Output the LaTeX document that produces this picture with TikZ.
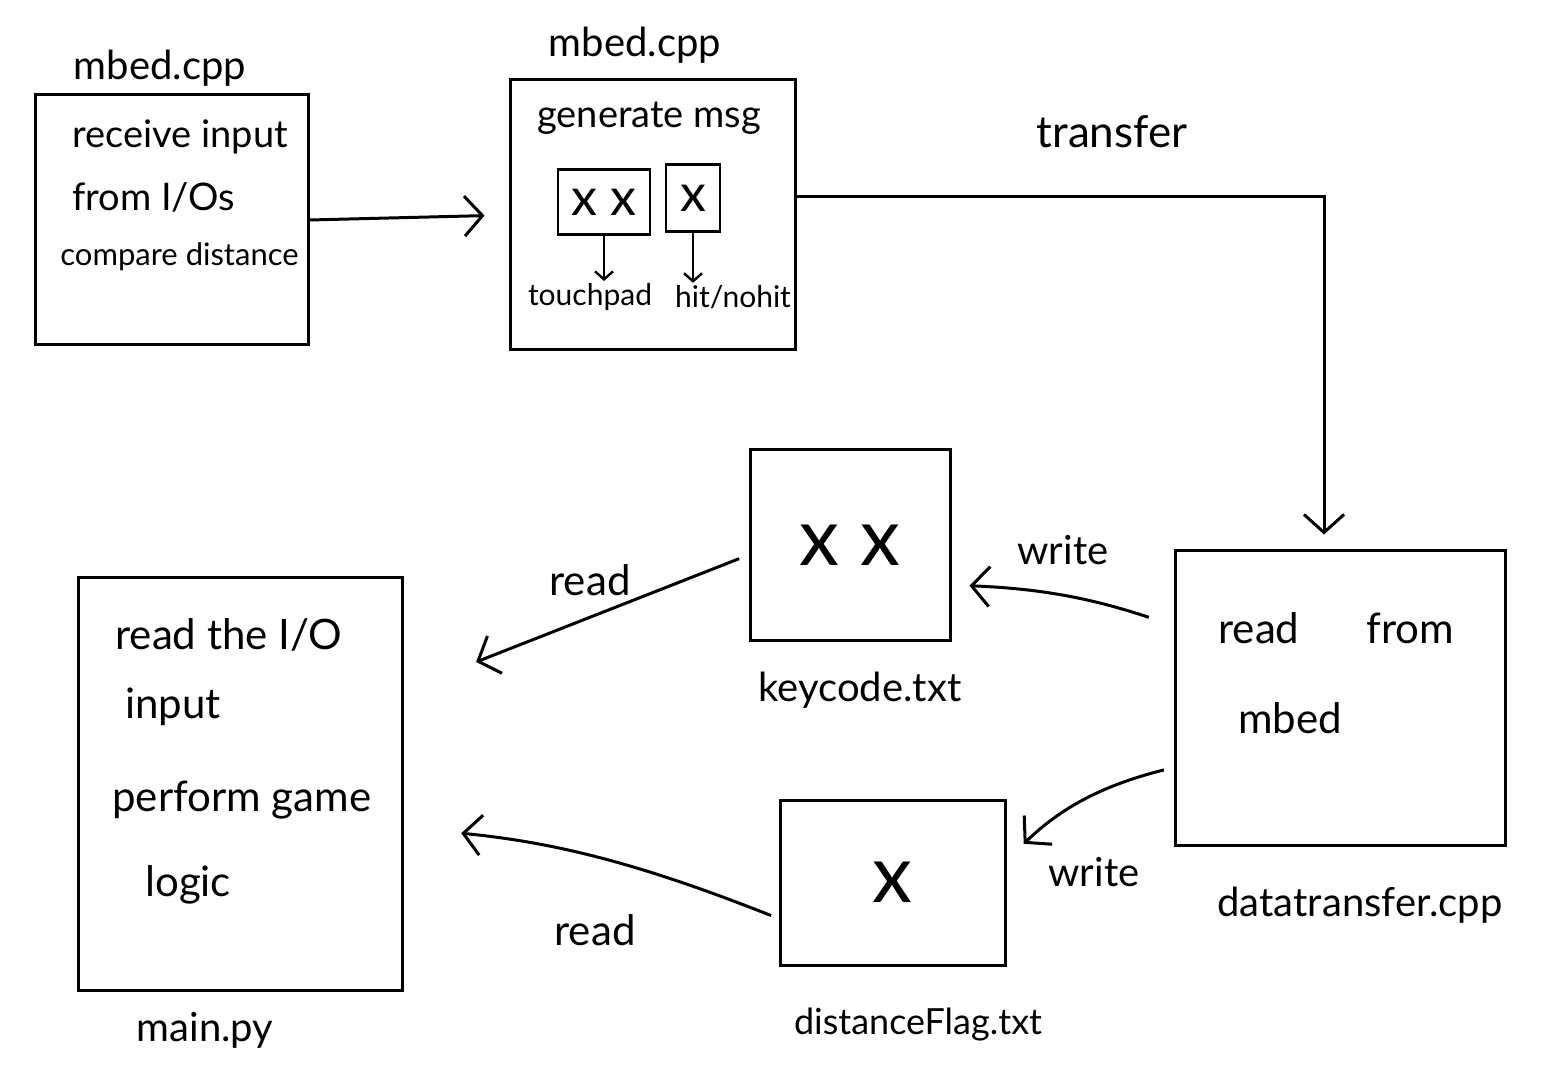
\documentclass[tikz,border=0pt]{standalone}
\usepackage{fontspec}
\setmainfont{Lato}
\usetikzlibrary{arrows.meta}
\begin{document}
\begin{tikzpicture}[x=0.5pt,y=-0.5pt,
  box/.style={draw, line width=1.5pt, inner sep=0pt},
  conn/.style={line width=1.5pt, -{Straight Barb[length=9pt,width=20pt,line width=1.5pt]}},
  smallconn/.style={line width=1.2pt, -{Straight Barb[length=4pt,width=9pt,line width=1.2pt]}},
  lab/.style={font=\fontsize{20}{24}\selectfont, inner sep=1pt},
  txt/.style={font=\fontsize{19}{23}\selectfont, inner sep=1pt, anchor=west},
  bigtxt/.style={font=\fontsize{21}{25}\selectfont, inner sep=1pt, anchor=west},
  smalltxt/.style={font=\fontsize{15}{18}\selectfont, inner sep=1pt},
  crossmark/.style={font=\fontsize{40}{40}\selectfont},
  smallcross/.style={font=\fontsize{26}{26}\selectfont}
]
\useasboundingbox (0,0) rectangle (1558,1080);

% Box A: mbed.cpp (first)
\node[box, minimum width=136.5pt, minimum height=125pt] (A) at (171.5,220) {};
\node[lab] (Alab) at (160,68) {mbed.cpp};
\node[txt] (A1) at (70,137) {receive input};
\node[txt] (A2) at (70,197) {from I/Os};
\node[txt, font=\fontsize{15.5}{18}\selectfont] (A3) at (58,257) {compare distance};

% Box B: mbed.cpp (second)
\node[box, minimum width=142.5pt, minimum height=135pt] (B) at (652.5,215) {};
\node[lab] (Blab) at (635,45) {mbed.cpp};
\node[txt] (B1) at (535,118) {generate msg};
\node[box, line width=1.2pt, minimum width=46pt, minimum height=32.5pt, smallcross] (Bx1) at (604,202) {x x};
\node[box, line width=1.2pt, minimum width=27pt, minimum height=33.5pt, smallcross] (Bx2) at (693,198) {x};
\node[smalltxt] (touch) at (590,297) {touchpad};
\node[smalltxt] (hit) at (733,297) {hit/nohit};
\draw[smallconn] (Bx1.south) -- (Bx1.south |- touch.north);
\draw[smallconn] (Bx2.south) -- (Bx2.south |- hit.north);

% Box C: datatransfer.cpp
\node[box, minimum width=165pt, minimum height=147.5pt] (C) at (1340,697.5) {};
\node[lab] (Clab) at (1360,905) {datatransfer.cpp};
\node[bigtxt] (C1) at (1216,628) {read\hspace{1.6em}from};
\node[bigtxt] (C2) at (1236,718) {mbed};

% Box D: keycode.txt
\node[box, minimum width=100pt, minimum height=95pt, crossmark] (D) at (850,545) {x x};
\node[lab] (Dlab) at (860,690) {keycode.txt};

% Box E: distanceFlag.txt
\node[box, minimum width=112.5pt, minimum height=82.5pt, crossmark] (E) at (892.5,882.5) {x};
\node[lab, font=\fontsize{18}{22}\selectfont] (Elab) at (918,1025) {distanceFlag.txt};

% Box F: main.py
\node[box, minimum width=162pt, minimum height=206.5pt] (F) at (240,783.5) {};
\node[lab] (Flab) at (205,1030) {main.py};
\node[bigtxt] (F1) at (113,635) {read the I/O};
\node[bigtxt] (F2) at (123,707) {input};
\node[bigtxt] (F3) at (110,800) {perform game};
\node[bigtxt] (F4) at (143,885) {logic};

% Connectors
\draw[conn, shorten >=12pt] (A.east) -- (B.west);
\draw[conn, shorten >=7pt] ([yshift=9pt]B.east) -| ([xshift=-8pt]C.north);
\node[lab, font=\fontsize{22}{26}\selectfont] (ltransfer) at (1112,132) {transfer};

\draw[conn, shorten <=13pt, shorten >=9pt] ([yshift=36pt]C.west) to[bend right=8] ([yshift=-20pt]D.east);
\node[lab] (lwrite1) at (1063,550) {write};

\draw[conn, shorten <=5pt, shorten >=12pt] ([yshift=-35pt]C.west) to[bend right=15] ([yshift=11pt]E.east);
\node[lab] (lwrite2) at (1094,872) {write};

\draw[conn, shorten <=5pt, shorten >=39pt] ([yshift=-5pt]D.west) -- ([yshift=46.5pt]F.east);
\node[lab, font=\fontsize{21}{25}\selectfont] (lread1) at (590,580) {read};

\draw[conn, shorten <=4pt, shorten >=29pt] ([yshift=-18pt]E.west) to[bend right=8] ([yshift=-22pt]F.east);
\node[lab, font=\fontsize{21}{25}\selectfont] (lread2) at (595,930) {read};
\end{tikzpicture}
\end{document}
